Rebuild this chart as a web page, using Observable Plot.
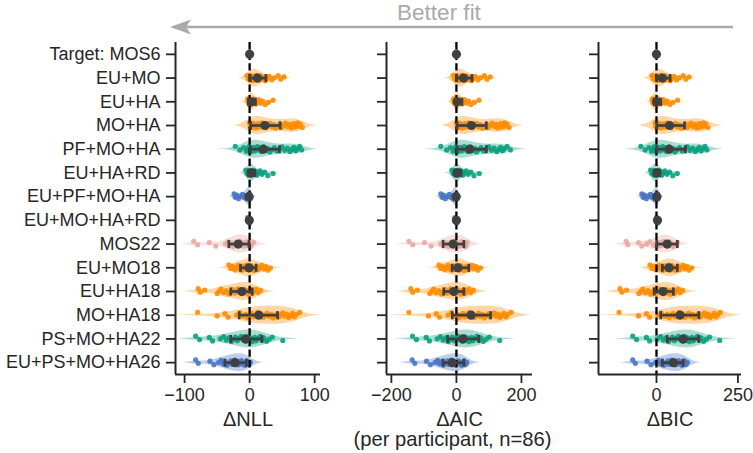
<!DOCTYPE html>
<html><head><meta charset="utf-8">
<script src="https://cdn.jsdelivr.net/npm/d3@7"></script>
<script src="https://cdn.jsdelivr.net/npm/@observablehq/plot@0.6"></script>
<style>
body{margin:0;background:#fff;}
#chart{position:relative;width:753px;height:453px;overflow:hidden;background:#fff;font-family:"Liberation Sans",Arial,sans-serif;}
#chart svg{position:absolute;top:0;overflow:visible;}
</style></head><body><div id="chart"></div>
<script>
// ---------- data ----------
const models = ["Target: MOS6","EU+MO","EU+HA","MO+HA","PF+MO+HA","EU+HA+RD","EU+PF+MO+HA",
  "EU+MO+HA+RD","MOS22","EU+MO18","EU+HA18","MO+HA18","PS+MO+HA22","EU+PS+MO+HA26"];
const families = ["mos","two","two","two","three","three","four","four","mos","two","two","two","three","four"];
const metricLabels = ["ΔNLL","ΔAIC","ΔBIC"];
const caption = "(per participant, n=86)";
const xTickValues = [[-100,0,100],[-200,0,200],[0,250]];
const nParticipants = 86;

// per-participant differences, one list per model
const nllPoints = [
  [0,0,0,0,0,0,0,0],
  [-4,-2,0,1,2,3,4,5,5,6,7,8,9,10,11,12,14,15,17,19,21,24,27,30,34,38,44,48,53],
  [-3,-2,-1,0,0,1,1,2,2,3,3,4,5,6,7,8,10,12,14,17,20,24,29,36],
  [0,1,2,3,4,5,6,8,9,11,13,15,17,19,21,23,25,28,31,34,37,40,43,46,49,52,55,58,61,64,66,68,70,72,74,76,78,81],
  [-22,-15,-9,-5,-3,-1,0,1,2,4,6,8,10,12,14,16,18,20,22,25,28,31,34,38,42,46,50,54,58,62,65,68,71,74,77,80],
  [-6,-4,-2,-1,0,0,1,1,2,2,3,4,5,6,7,9,11,13,16,19,23,28,36],
  [-24,-22,-20,-17,-14,-11,-8,-6,-4,-3,-2,-1,-1,0,0,0,1,2],
  [-3,-2,-1,-1,0,0,0,0,0,1],
  [-86,-80,-62,-52,-37,-33,-30,-27,-25,-23,-21,-19,-17,-15,-13,-11,-9,-7,-5,-3,-1,1,3,6],
  [-32,-29,-26,-23,-20,-18,-16,-14,-12,-10,-8,-7,-5,-4,-2,-1,0,1,2,4,5,7,9,11,13,16,19,22,25,28,32],
  [-79,-76,-69,-50,-47,-44,-40,-36,-32,-29,-26,-23,-20,-18,-16,-14,-12,-10,-8,-6,-4,-2,0,2,4,7,10,13,17],
  [-80,-50,-38,-33,-20,-15,-10,-6,-3,0,3,6,9,12,15,18,21,24,27,30,33,36,39,42,45,48,51,54,57,60,63,66,69,72,77],
  [-83,-77,-62,-57,-45,-40,-36,-32,-28,-25,-22,-19,-16,-13,-10,-8,-6,-4,-2,0,2,4,6,8,10,13,16,19,22,26,30,35,51],
  [-83,-79,-61,-55,-48,-44,-41,-38,-35,-32,-29,-27,-25,-23,-21,-19,-17,-15,-13,-11,-9,-7,-5,-3,-1,1]
];
const aicPoints = [
  [0,0,0,0,0,0,0,0],
  [-10,-6,-2,0,2,4,6,8,8,10,12,14,16,18,20,22,26,28,32,36,40,46,52,58,66,74,86,94,104],
  [-9,-7,-5,-3,-3,-1,-1,1,1,3,3,5,7,9,11,13,17,21,25,31,37,45,55,69],
  [0,2,4,6,8,10,12,16,18,22,26,30,34,38,42,46,50,56,62,68,74,80,86,92,98,104,110,116,122,128,132,136,140,144,148,152,156,162],
  [-48,-30,-18,-10,-6,-2,0,2,4,8,12,16,20,24,28,32,36,40,44,50,56,62,68,76,84,92,100,108,116,124,130,136,142,148,156,166],
  [-14,-10,-6,-4,-2,-2,0,0,2,2,4,6,8,10,12,16,20,24,30,36,44,54,70],
  [-48,-44,-40,-34,-28,-22,-16,-12,-8,-6,-4,-2,-2,0,0,0,2,4],
  [-5,-4,-2,-1,0,0,0,0,1,2],
  [-146,-134,-98,-78,-48,-40,-34,-28,-24,-20,-16,-12,-8,-4,0,4,8,12,16,20,24,28,30,33],
  [-54,-48,-42,-36,-30,-26,-22,-18,-14,-10,-6,-4,0,2,6,8,10,12,14,18,20,24,28,32,36,42,48,54,60,66,74],
  [-140,-134,-120,-82,-76,-70,-62,-54,-46,-40,-34,-28,-22,-18,-14,-10,-6,-2,2,6,10,14,18,22,26,32,38,44,52],
  [-146,-86,-62,-52,-26,-16,-6,2,8,14,20,26,32,38,44,50,56,62,68,74,80,86,92,98,104,110,116,122,128,134,140,146,152,158,168],
  [-135,-123,-93,-83,-59,-49,-41,-33,-25,-19,-13,-7,-1,5,11,15,19,23,27,31,35,39,43,47,51,57,63,69,75,83,91,101,133],
  [-136,-128,-92,-80,-66,-58,-52,-46,-40,-34,-28,-24,-20,-16,-12,-8,-4,0,4,8,12,16,20,24,28,32]
];
const bicPoints = [
  [0,0,0,0,0,0,0,0],
  [-14,-10,-6,-4,-2,0,2,4,4,6,8,10,12,14,16,18,22,24,28,32,36,42,48,54,62,70,82,90,100],
  [-13,-11,-9,-7,-7,-5,-5,-3,-3,-1,-1,1,3,5,7,9,13,17,21,27,33,41,51,65],
  [-4,-2,0,2,4,6,8,12,14,18,22,26,30,34,38,42,46,52,58,64,70,76,82,88,94,100,106,112,118,124,128,132,136,140,144,148,152,158],
  [-48,-35,-23,-15,-11,-7,-5,-3,-1,3,7,11,15,19,23,27,31,35,39,45,51,57,63,71,79,87,95,103,111,119,125,131,137,143,149,155],
  [-18,-14,-10,-8,-6,-6,-4,-4,-2,-2,0,2,4,6,8,12,16,20,26,32,40,50,64],
  [-45,-41,-37,-31,-25,-19,-13,-9,-5,-3,-1,1,1,3,3,3,5,7],
  [0,1,2,2,3,3,3,3,4,5],
  [-93,-88,-55,-45,-30,-20,-8,-2,2,6,10,14,18,22,26,30,33,36,40,44,48,52,58,64],
  [-20,-14,-8,-2,4,8,12,16,20,24,28,30,34,36,40,42,44,46,48,52,54,58,62,66,70,76,82,88,94,100,108],
  [-112,-106,-92,-54,-48,-42,-34,-26,-18,-12,-6,0,6,10,14,18,22,26,30,34,38,42,46,50,54,60,66,72,80],
  [-115,-55,-31,-21,5,15,25,33,39,45,51,57,63,69,75,81,87,93,99,105,111,117,123,129,135,141,147,153,159,165,171,177,183,189,196],
  [-73,-61,-31,-21,3,13,21,29,37,43,49,55,61,67,73,77,81,85,89,93,97,101,105,109,113,119,125,131,137,145,153,163,194],
  [-73,-65,-29,-17,-3,5,11,17,23,29,35,39,43,47,51,55,59,63,67,71,75,79,83,87,91,95]
];
// summary point and interval per model
const nllMean = [0,12,3,23.5,21,2,-1,-0.5,-17.5,-1,-12,14,-6,-22.5];
const nllLo   = [0,1,-2,1.5,1,-2,-2,-1,-32,-14,-29,-16,-29,-38];
const nllHi   = [0,25,9,47,46,8,0,0,-1,10,4,43,19,-5];
const aicMean = [0,22,2,46,41,2,-1,0,-10,5,-8,45,20,-13];
const aicLo   = [0,0,-3,2,2,-4,-3,-1,-41,-13,-39,-13,-27,-41];
const aicHi   = [0,48,17,92,92,14,1,1,23,38,23,105,69,23];
const bicMean = [0,18,0,40,38.5,1,1,3,33,38.5,20,72,82,52];
const bicLo   = [0,1,-7,1,1,-6,-1,2,1,18,-7,13,33,18];
const bicHi   = [0,42,13,86,89,10,3,4,64,64,52,130,130,82];

// ---------- styling / layout ----------
const familyColors = {mos:"#E8A9A2", two:"#FF8C00", three:"#0A9E7E", four:"#4874C4"};
const ink = "#262626";
const font = "'Liberation Sans', Arial, sans-serif";
const minus = d => d < 0 ? "\u2212" + Math.abs(d) : String(d);
const panels = [
  {pts: nllPoints, mean: nllMean, lo: nllLo, hi: nllHi, domain: [-114,109], left: 0,   width: 335, ml: 175, mr: 15, showY: true},
  {pts: aicPoints, mean: aicMean, lo: aicLo, hi: aicHi, domain: [-215,234], left: 335, width: 210, ml: 51,  mr: 13, showY: false},
  {pts: bicPoints, mean: bicMean, lo: bicLo, hi: bicHi, domain: [-178,261], left: 545, width: 208, ml: 53,  mr: 12, showY: false}
];
const H = 453, MT = 42, MB = 79;
const container = document.getElementById("chart");

function kdeRows(vals, i) {
  const s = d3.deviation(vals);
  if (!s || s < 1e-9) return [];
  const bw = s * Math.pow(nParticipants, -0.2);
  const lo = d3.min(vals) - 2 * bw, hi = d3.max(vals) + 2 * bw;
  const n = 160, grid = [];
  for (let k = 0; k <= n; k++) {
    const x = lo + (hi - lo) * k / n;
    let dsum = 0;
    for (const v of vals) { const z = (x - v) / bw; dsum += Math.exp(-0.5 * z * z); }
    grid.push({x, d: dsum});
  }
  const mx = d3.max(grid, g => g.d);
  return grid.map(g => ({i, x: g.x, y1: i - 0.38 * g.d / mx, y2: i + 0.38 * g.d / mx, c: familyColors[families[i]]}));
}

panels.forEach((p, pi) => {
  const dots = [], violins = [], stats = [];
  models.forEach((mname, i) => {
    const c = familyColors[families[i]];
    p.pts[i].forEach((v, j) => {
      const jit = (((j * 0.6180339887) % 1) - 0.5) * 0.24;
      dots.push({i, v, y: i + jit, c});
    });
    violins.push(...kdeRows(p.pts[i], i));
    stats.push({i, mean: p.mean[i], lo: p.lo[i], hi: p.hi[i]});
  });
  const errInk = "#404040";
  const bars = stats.filter(d => d.hi > d.lo);
  const marks = [
    Plot.areaY(violins, {x: "x", y1: "y1", y2: "y2", z: "i", fill: "c", fillOpacity: 0.35, curve: "linear"}),
    Plot.dot(dots, {x: "v", y: "y", r: 2.6, fill: "c", fillOpacity: 0.9, stroke: null}),
    Plot.ruleX([0], {stroke: "#000", strokeWidth: 2.3, strokeDasharray: "7.4,3.2"}),
    Plot.ruleY(bars, {y: "i", x1: "lo", x2: "hi", stroke: errInk, strokeWidth: 2.7}),
    Plot.link(bars, {x1: "lo", x2: "lo", y1: d => d.i - 0.17, y2: d => d.i + 0.17, stroke: errInk, strokeWidth: 2.7}),
    Plot.link(bars, {x1: "hi", x2: "hi", y1: d => d.i - 0.17, y2: d => d.i + 0.17, stroke: errInk, strokeWidth: 2.7}),
    Plot.dot(stats, {x: "mean", y: "i", r: 4.6, fill: errInk, stroke: null}),
    Plot.axisY({ticks: d3.range(models.length), tickFormat: p.showY ? (i => models[i]) : (() => ""),
      tickSize: 9, tickPadding: 6, fontSize: 18, strokeWidth: 1.8, label: null}),
    Plot.axisX({ticks: xTickValues[pi], tickFormat: minus, tickSize: 9, tickPadding: 5, fontSize: 18, strokeWidth: 1.8, label: null}),
    Plot.ruleX([p.domain[0]], {stroke: ink, strokeWidth: 2}),
    Plot.ruleY([models.length - 0.5], {stroke: ink, strokeWidth: 2}),
    Plot.text([metricLabels[pi]], {text: d => d, frameAnchor: "bottom", lineAnchor: "middle", dy: 45, fontSize: 20, fill: ink})
  ];
  if (pi === 1) marks.push(Plot.text([caption], {text: d => d, frameAnchor: "bottom", lineAnchor: "middle", dy: 65.5, dx: -7, fontSize: 20.2, fill: ink}));
  const svg = Plot.plot({
    width: p.width, height: H,
    marginLeft: p.ml, marginRight: p.mr, marginTop: MT, marginBottom: MB,
    x: {domain: p.domain, label: null},
    y: {domain: [models.length - 0.5, -0.5], label: null},
    color: {type: "identity"},
    style: {fontFamily: font, fontSize: "18px", color: ink, background: "transparent", overflow: "visible"},
    marks
  });
  svg.style.left = p.left + "px";
  container.appendChild(svg);
});

// "Better fit" annotation
const ann = d3.create("svg").attr("width", 753).attr("height", 453)
  .style("left", "0px").style("pointer-events", "none");
ann.append("line").attr("x1", 733).attr("y1", 27).attr("x2", 182).attr("y2", 27)
  .attr("stroke", "#aaaaaa").attr("stroke-width", 2.5);
ann.append("path").attr("d", "M170,27 L191,19.5 L186,27 L191,34.5 Z").attr("fill", "#aaaaaa");
ann.append("text").attr("x", 439).attr("y", 20.4).attr("text-anchor", "middle")
  .attr("font-family", font).attr("font-size", 22.5).attr("fill", "#aaaaaa").text("Better fit");
container.appendChild(ann.node());
</script></body></html>
